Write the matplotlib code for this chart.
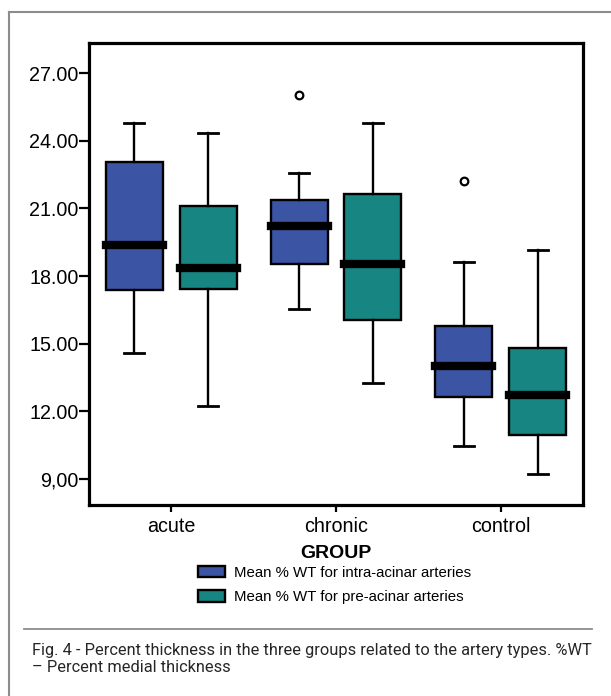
import numpy as np
import matplotlib
matplotlib.use("Agg")
import matplotlib.pyplot as plt
from matplotlib.patches import Patch
from matplotlib.lines import Line2D

plt.rcParams["font.family"] = ["Liberation Sans", "DejaVu Sans"]

groups = ["acute", "chronic", "control"]
series = ["Mean % WT for intra-acinar arteries",
          "Mean % WT for pre-acinar arteries"]
colors = ["#3b54a3", "#178682"]

# box statistics, in group order
intra_whislo = [14.61, 16.53, 10.45]
intra_q1 = [17.38, 18.52, 12.66]
intra_med = [19.40, 20.21, 14.00]
intra_q3 = [23.06, 21.36, 15.79]
intra_whishi = [24.79, 22.58, 18.64]
intra_fliers = [[], [26.04], [22.23]]

pre_whislo = [12.24, 13.24, 9.23]
pre_q1 = [17.41, 16.05, 10.96]
pre_med = [18.35, 18.55, 12.72]
pre_q3 = [21.13, 21.66, 14.80]
pre_whishi = [24.35, 24.79, 19.14]
pre_fliers = [[], [], []]

yticks = [9, 12, 15, 18, 21, 24, 27]
ytick_labels = ["9,00", "12.00", "15.00", "18.00", "21.00", "24.00", "27.00"]

caption = ["Fig. 4 - Percent thickness in the three groups related to the artery types. %WT",
           "\u2013 Percent medial thickness"]


def make_stats(lo, q1, med, q3, hi, fl):
    return [dict(whislo=a, q1=b, med=c, q3=d, whishi=e, fliers=f)
            for a, b, c, d, e, f in zip(lo, q1, med, q3, hi, fl)]


W, H = 611, 696
fig = plt.figure(figsize=(W / 100, H / 100), dpi=100)
ax = fig.add_axes([89 / W, 1 - 505 / H, (583 - 89) / W, (505 - 43) / H])

x = np.arange(len(groups))
offset = 0.224
all_stats = [
    make_stats(intra_whislo, intra_q1, intra_med, intra_q3, intra_whishi, intra_fliers),
    make_stats(pre_whislo, pre_q1, pre_med, pre_q3, pre_whishi, pre_fliers),
]

for i, (st, c) in enumerate(zip(all_stats, colors)):
    ax.bxp(st, positions=x + (i - 0.5) * 2 * offset, widths=0.345,
           patch_artist=True, showfliers=True, capwidths=0.122,
           boxprops=dict(facecolor=c, edgecolor="black", linewidth=1.7),
           medianprops=dict(color="black", linewidth=6, solid_capstyle="projecting"),
           whiskerprops=dict(color="black", linewidth=1.7),
           capprops=dict(color="black", linewidth=2),
           flierprops=dict(marker="o", markersize=5.5, markerfacecolor="white",
                           markeredgecolor="black", markeredgewidth=1.6))

ax.set_xlim(-0.5, 2.5)
ax.set_ylim(7.85, 28.34)
ax.set_xticks(x)
ax.set_xticklabels(groups, fontsize=14.2)
ax.set_yticks(yticks)
ax.set_yticklabels(ytick_labels, fontsize=14.2)
ax.tick_params(axis="y", length=7, width=1.6, pad=0.5)
ax.tick_params(axis="x", length=5, width=1.6, pad=4)
ax.set_xlabel("GROUP", fontsize=14, fontweight="bold", labelpad=6)
for sp in ax.spines.values():
    sp.set_linewidth(2.3)

handles = [Patch(facecolor=c, edgecolor="black", linewidth=1.7) for c in colors]
fig.legend(handles, series, loc="center",
           bbox_to_anchor=(334.5 / W, 1 - 585 / H), frameon=False,
           fontsize=10.8, handlelength=1.8, handleheight=0.8,
           handletextpad=0.6, labelspacing=0.72, borderpad=0, borderaxespad=0)

# page decoration: border and caption rule
grey = "#8c8c8c"
fig.add_artist(Line2D([9 / W, 1], [1 - 12 / H, 1 - 12 / H], color=grey, lw=1.5))
fig.add_artist(Line2D([9 / W, 9 / W], [0, 1 - 12 / H], color=grey, lw=1.5))
fig.add_artist(Line2D([24 / W, 592 / W], [1 - 629 / H, 1 - 629 / H], color=grey, lw=1.3))

cap_txt = [fig.text(32 / W, 1 - yy / H, t, fontsize=10,
                    family=["Roboto", "DejaVu Sans"],
                    color="#262626", va="center", ha="left")
           for t, yy in zip(caption, [650, 668])]
r = fig.canvas.get_renderer()
w0 = cap_txt[0].get_window_extent(r).width
for t in cap_txt:
    t.set_fontsize(10 * 560 / w0)

fig.savefig("out.png", dpi=100)
